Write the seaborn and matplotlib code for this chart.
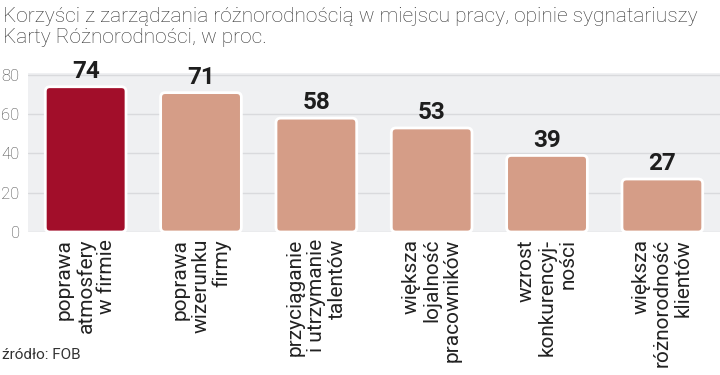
import matplotlib
matplotlib.use("Agg")
import matplotlib.pyplot as plt
import seaborn as sns
import pandas as pd
from matplotlib.patches import FancyBboxPatch

categories = [
    "poprawa\natmosfery\nw firmie",
    "poprawa\nwizerunku\nfirmy",
    "przyciąganie\ni utrzymanie\ntalentów",
    "większa\nlojalność\npracowników",
    "wzrost\nkonkurencyj-\nności",
    "większa\nróżnorodność\nklientów",
]
values = [74, 71, 58, 53, 39, 27]
bar_colors = ["#a20e2a", "#d59d87", "#d59d87", "#d59d87", "#d59d87", "#d59d87"]
y_ticks = [0, 20, 40, 60, 80]
title = "Korzyści z zarządzania różnorodnością w miejscu pracy, opinie sygnatariuszy\nKarty Różnorodności, w proc."
source = "źródło: FOB"

sns.set_theme(style="white")
plt.rcParams["font.family"] = ["Roboto", "DejaVu Sans"]

df = pd.DataFrame({"cat": categories, "val": values})

fig = plt.figure(figsize=(7.2, 3.75), dpi=100)
ax = fig.add_axes([28 / 720, (375 - 232) / 375, 692 / 720, (232 - 73) / 375])
ax.set_facecolor("#eff0f2")

sns.barplot(data=df, x="cat", y="val", hue="cat", palette=bar_colors,
            legend=False, width=0.7, ax=ax, saturation=1)

ax.set_xlim(-0.5, 5.5)
ax.set_ylim(0, 81)
ax.set_yticks(y_ticks)
ax.yaxis.grid(True, color="#d9dadd", linewidth=1)
ax.set_axisbelow(True)
for s in ax.spines.values():
    s.set_visible(False)

# rounded bars
aspect = (115.2) / (1.9625)
for p in list(ax.patches):
    x, y, w, h = p.get_x(), p.get_y(), p.get_width(), p.get_height()
    fc = p.get_facecolor()
    p.set_visible(False)
    fb = FancyBboxPatch((x, y), w, h,
                        boxstyle="round,pad=0,rounding_size=0.04",
                        mutation_aspect=aspect,
                        facecolor=fc, edgecolor="white", linewidth=2, zorder=3)
    ax.add_patch(fb)

for i, v in enumerate(values):
    ax.text(i, v + 2.0, str(v), ha="center", va="bottom",
            fontsize=17.5, fontweight="bold", color="#1e1e1e")

ax.set_xlabel("")
ax.set_ylabel("")
ax.tick_params(axis="y", length=0, pad=6, labelsize=12, labelcolor="#444444")
ax.tick_params(axis="x", length=0, pad=5)
ax.set_xticks(range(len(categories)))
ax.set_xticklabels(categories, rotation=90, ha="center", va="top",
                   multialignment="right", fontsize=15, color="#222222",
                   linespacing=1.12)
for lbl in ax.get_yticklabels():
    lbl.set_fontweight("light")

fig.text(3 / 720, 1 - 7 / 375, title, ha="left", va="top", fontsize=15,
         color="#333333", fontweight="light", linespacing=1.15)
fig.text(2 / 720, 1 - 355 / 375, source, ha="left", va="center",
         fontsize=11, color="#333333")

fig.savefig("out.png", dpi=100)
